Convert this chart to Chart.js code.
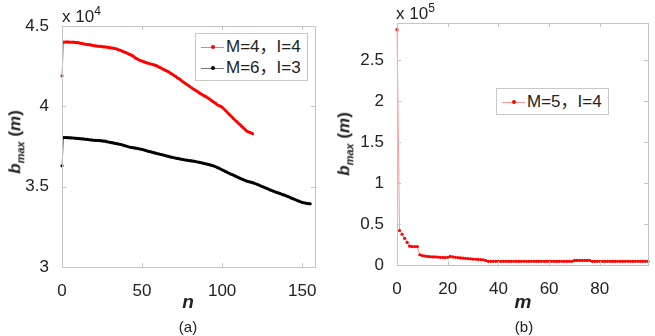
<!DOCTYPE html>
<html>
<head>
<meta charset="utf-8">
<script src="https://cdn.jsdelivr.net/npm/chart.js@4.4.1/dist/chart.umd.min.js"></script>
<style>
    body { margin: 0; background: #fff; }
    #wrap { position: relative; width: 655px; height: 336px; font-family: 'Liberation Sans', Arial, 'Noto Sans CJK SC', sans-serif; color: #222; }
    canvas { position: absolute; top: 0; }
    .txt { position: absolute; white-space: nowrap; }
    .ytitle { font-size: 17px; font-weight: bold; transform: translate(-50%, -50%) rotate(-90deg); }
    .ytitle sub { font-size: 11px; }
    .xtitle { font-size: 19px; font-weight: bold; font-style: italic; transform: translate(-50%, -50%); }
    .cap { font-size: 15px; transform: translate(-50%, -50%); }
    .mult { font-size: 17px; }
    .mult sup { font-size: 12px; }
    .legend { position: absolute; border: 1px solid #c8c8c8; background: #fff; font-size: 17px; padding: 2px 6px 2px 3px; }
    .legend .row { position: relative; height: 21px; line-height: 21px; padding-left: 27px; }
    .legend .ln { position: absolute; left: 2px; top: 11px; width: 23px; border-top: 1px solid; }
    .legend .dot { position: absolute; left: 12px; top: 9px; width: 4px; height: 4px; border-radius: 50%; }
</style>
</head>
<body>
<div id="wrap">
    <canvas id="chartA" width="327" height="336" style="left:0"></canvas>
    <canvas id="chartB" width="328" height="336" style="left:327px"></canvas>
</div>
<script>
// Panel (a): b_max versus n
const nMax = 158;
const nTicks = [0, 50, 100, 150];
const bTicksA = [30000, 35000, 40000, 45000];
const labelRedA = 'M=4，I=4';
const labelBlackA = 'M=6，I=3';
const bmaxRedA = [
    41900, 44000, 44000, 44010, 44000, 44000, 43990, 44000, 43980, 43970,
    43960, 43940, 43920, 43900, 43880, 43860, 43850, 43840, 43820, 43800,
    43780, 43760, 43750, 43740, 43730, 43720, 43700, 43700, 43690, 43670,
    43650, 43630, 43620, 43600, 43580, 43530, 43500, 43470, 43420, 43380,
    43340, 43300, 43240, 43200, 43150, 43080, 43000, 42950, 42900, 42850,
    42820, 42780, 42740, 42700, 42680, 42650, 42620, 42590, 42560, 42530,
    42480, 42420, 42380, 42320, 42270, 42220, 42180, 42120, 42050, 41990,
    41920, 41860, 41780, 41720, 41650, 41570, 41500, 41430, 41360, 41290,
    41220, 41150, 41080, 41020, 40960, 40900, 40820, 40760, 40700, 40650,
    40600, 40530, 40460, 40390, 40320, 40250, 40180, 40100, 40050, 40000,
    39950, 39850, 39750, 39650, 39550, 39450, 39350, 39250, 39150, 39060,
    38970, 38880, 38780, 38690, 38600, 38500, 38420, 38380, 38350, 38300
];
const bmaxBlackA = [
    36300, 38060, 38060, 38050, 38050, 38040, 38040, 38030, 38020, 38010,
    38000, 37990, 37980, 37970, 37960, 37950, 37940, 37920, 37910, 37900,
    37890, 37880, 37880, 37870, 37860, 37850, 37840, 37830, 37800, 37780,
    37760, 37740, 37720, 37700, 37680, 37660, 37640, 37620, 37590, 37560,
    37530, 37500, 37470, 37450, 37430, 37410, 37400, 37380, 37360, 37340,
    37320, 37290, 37260, 37230, 37200, 37180, 37150, 37120, 37100, 37070,
    37050, 37020, 37000, 36980, 36950, 36920, 36900, 36870, 36840, 36820,
    36800, 36780, 36760, 36740, 36720, 36700, 36680, 36660, 36650, 36630,
    36620, 36600, 36590, 36570, 36550, 36530, 36510, 36490, 36460, 36440,
    36420, 36390, 36370, 36340, 36310, 36280, 36240, 36200, 36150, 36100,
    36050, 36000, 35950, 35900, 35850, 35800, 35760, 35720, 35670, 35620,
    35580, 35530, 35490, 35450, 35400, 35360, 35330, 35300, 35280, 35250,
    35220, 35180, 35140, 35100, 35050, 35010, 34970, 34930, 34890, 34840,
    34800, 34760, 34720, 34680, 34650, 34610, 34580, 34540, 34500, 34470,
    34430, 34390, 34350, 34300, 34260, 34220, 34180, 34140, 34100, 34060,
    34020, 34000, 33980, 33960, 33950, 33930
];

// Panel (b): b_max versus m
const mMax = 99;
const mTicks = [0, 20, 40, 60, 80];
const bTicksB = [0, 50000, 100000, 150000, 200000, 250000];
const labelRedB = 'M=5，I=4';
const bmaxRedB = [
    287000, 42000, 37500, 32500, 27500, 23000, 22500, 22500, 22500, 12500,
    11500, 11000, 10500, 10200, 10000, 9800, 9600, 9400, 9200, 9000,
    9400, 10500, 9800, 9400, 9000, 8600, 8300, 8000, 7800, 7500,
    7200, 7000, 6800, 6600, 6400, 5500, 4500, 4500, 4500, 4500,
    4500, 4500, 4500, 4500, 4500, 4500, 4500, 4500, 4500, 4500,
    4500, 4500, 4500, 4500, 4500, 4500, 4500, 4500, 4500, 4500,
    4500, 4500, 4500, 4500, 4500, 4500, 4500, 4500, 4500, 4500,
    5600, 5600, 5600, 5600, 5600, 5600, 5600, 4500, 4500, 4500,
    4500, 4500, 4500, 4500, 4500, 4500, 4500, 4500, 4500, 4500,
    4500, 4500, 4500, 4500, 4500, 4500, 4500, 4500, 4500, 4500
];

const toPoints = arr => arr.map((v, i) => ({ x: i, y: v }));
const tickFont = { family: "'Liberation Sans', Arial, sans-serif", size: 17 };
const tickColor = '#222';

// MATLAB-like box with inward tick marks on all four sides
const boxPlugin = {
    id: 'box',
    afterDraw(chart) {
        const { ctx, chartArea: a, scales } = chart;
        const len = 4;
        ctx.save();
        ctx.strokeStyle = '#c4c4c4';
        ctx.lineWidth = 1;
        ctx.strokeRect(Math.round(a.left) + 0.5, Math.round(a.top) + 0.5, Math.round(a.width), Math.round(a.height));
        ctx.beginPath();
        scales.x.ticks.forEach(t => {
            const px = Math.round(scales.x.getPixelForValue(t.value)) + 0.5;
            ctx.moveTo(px, a.bottom); ctx.lineTo(px, a.bottom - len);
            ctx.moveTo(px, a.top); ctx.lineTo(px, a.top + len);
        });
        scales.y.ticks.forEach(t => {
            const py = Math.round(scales.y.getPixelForValue(t.value)) + 0.5;
            ctx.moveTo(a.left, py); ctx.lineTo(a.left + len, py);
            ctx.moveTo(a.right, py); ctx.lineTo(a.right - len, py);
        });
        ctx.stroke();
        ctx.restore();
    }
};

function makeDataset(label, values, color, lineColor) {
    return {
        label: label,
        data: toPoints(values),
        borderColor: lineColor,
        backgroundColor: color,
        pointBackgroundColor: color,
        pointBorderColor: color,
        borderWidth: 1,
        pointRadius: 1.6,
        pointBorderWidth: 0,
        tension: 0,
        clip: false
    };
}

function makeOptions(xMax, xTicks, yMin, yMax, yTicks, yScale, pad, yWidth, xHeight) {
    return {
        responsive: false,
        animation: false,
        layout: { padding: pad },
        plugins: { legend: { display: false }, tooltip: { enabled: false } },
        scales: {
            x: {
                type: 'linear',
                min: 0,
                max: xMax,
                grid: { display: false },
                border: { display: false },
                ticks: { font: tickFont, color: tickColor, padding: 6, maxRotation: 0, autoSkip: false },
                afterBuildTicks: s => { s.ticks = xTicks.map(v => ({ value: v })); },
                afterFit: s => { s.height = xHeight; }
            },
            y: {
                min: yMin,
                max: yMax,
                grid: { display: false },
                border: { display: false },
                ticks: {
                    font: tickFont,
                    color: tickColor,
                    padding: 5,
                    autoSkip: false,
                    callback: v => String(+(v / yScale).toFixed(2))
                },
                afterBuildTicks: s => { s.ticks = yTicks.map(v => ({ value: v })); },
                afterFit: s => { s.width = yWidth; }
            }
        }
    };
}

const chartA = new Chart(document.getElementById('chartA'), {
    type: 'line',
    data: {
        datasets: [
            makeDataset(labelRedA, bmaxRedA, '#ff0000', 'rgba(255,0,0,0.55)'),
            makeDataset(labelBlackA, bmaxBlackA, '#000000', 'rgba(0,0,0,0.55)')
        ]
    },
    options: makeOptions(nMax, nTicks, 30000, 45000, bTicksA, 1e4, { left: 0, right: 12, top: 26, bottom: 0 }, 62, 69),
    plugins: [boxPlugin]
});

const chartB = new Chart(document.getElementById('chartB'), {
    type: 'line',
    data: {
        datasets: [
            makeDataset(labelRedB, bmaxRedB, '#ff0000', 'rgba(255,0,0,0.4)')
        ]
    },
    options: makeOptions(mMax, mTicks, 0, 295000, bTicksB, 1e5, { left: 0, right: 7, top: 23, bottom: 0 }, 70, 71),
    plugins: [boxPlugin]
});

// Text overlays: axis titles, multipliers, captions, legends
const wrap = document.getElementById('wrap');
function addText(cls, html, left, top) {
    const d = document.createElement('div');
    d.className = 'txt ' + cls;
    d.innerHTML = html;
    d.style.left = left + 'px';
    d.style.top = top + 'px';
    wrap.appendChild(d);
    return d;
}
function addLegend(chart, left, top) {
    const box = document.createElement('div');
    box.className = 'legend';
    box.style.left = left + 'px';
    box.style.top = top + 'px';
    chart.data.datasets.forEach(ds => {
        const row = document.createElement('div');
        row.className = 'row';
        row.innerHTML = `<span class="ln" style="border-color:${ds.borderColor}"></span>` +
                        `<span class="dot" style="background:${ds.pointBackgroundColor}"></span>${ds.label}`;
        box.appendChild(row);
    });
    wrap.appendChild(box);
}

const yTitle = '<i>b</i><sub><i>max</i></sub> (<i>m</i>)';
addText('ytitle', yTitle, 16, 142);
addText('ytitle', yTitle, 345, 144);
addText('mult', 'x 10<sup>4</sup>', 62, 4);
addText('mult', 'x 10<sup>5</sup>', 396, 1);
addText('xtitle', 'n', 188, 302);
addText('xtitle', 'm', 523, 302);
addText('cap', '(a)', 188, 326);
addText('cap', '(b)', 524, 326);
addLegend(chartA, 195, 33);
addLegend(chartB, 496, 88);
</script>
</body>
</html>
